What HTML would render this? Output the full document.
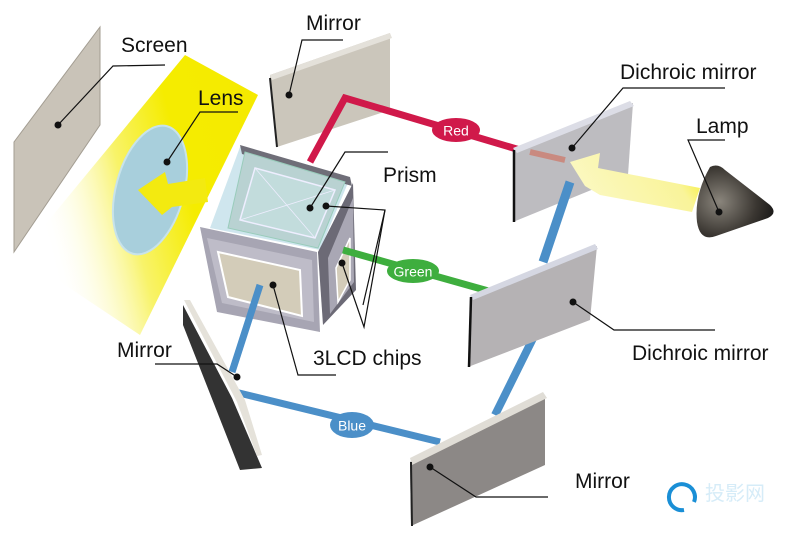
<!DOCTYPE html>
<html><head><meta charset="utf-8"><style>
html,body{margin:0;padding:0;background:#fff;}
svg{display:block;}
text{font-family:"Liberation Sans","Noto Sans CJK SC",sans-serif;}
</style></head><body>
<svg width="800" height="534" viewBox="0 0 800 534" xmlns="http://www.w3.org/2000/svg">
<defs>
<linearGradient id="yg" x1="0" y1="0.3" x2="1" y2="0">
<stop offset="0" stop-color="#fff" stop-opacity="0"/>
<stop offset="0.35" stop-color="#f8f36a"/>
<stop offset="0.6" stop-color="#f5ec00"/>
<stop offset="1" stop-color="#f5ea00"/>
</linearGradient>
<linearGradient id="lg" x1="1" y1="0" x2="0" y2="0.3">
<stop offset="0" stop-color="#f7ee10"/>
<stop offset="0.3" stop-color="#f9f49a"/>
<stop offset="1" stop-color="#fbf8c0"/>
</linearGradient>
<radialGradient id="lampg" cx="0.3" cy="0.5" r="0.8">
<stop offset="0" stop-color="#8a857c"/>
<stop offset="0.6" stop-color="#3a3631"/>
<stop offset="1" stop-color="#111"/>
</radialGradient>
</defs>
<rect width="800" height="534" fill="#fff"/>
<!-- Screen -->
<polygon points="100,27 100,125 14,252 14,142" fill="#c9c3b8" stroke="#a39d92" stroke-width="1"/>
<!-- yellow beam -->
<polygon points="185,55 258,95 140,335 20,255" fill="url(#yg)"/>
<!-- lens -->
<ellipse cx="150" cy="190" rx="34" ry="66" transform="rotate(15 150 190)" fill="#a8cfdc" stroke="#c8e3ea" stroke-width="2"/>
<polygon points="138,190 165,172 168,184 205,178 208,202 172,207 162,215" fill="#f3ea10"/>
<!-- top mirror -->
<polygon points="270,75 390,33 390,110 277,147" fill="#cbc6bb"/>
<polygon points="270,75 390,33 392,38 272,80" fill="#e4e1da"/>
<line x1="270" y1="78" x2="277" y2="147" stroke="#222" stroke-width="2"/>
<!-- red beam -->
<polyline points="310,162 345,98 520,150" fill="none" stroke="#d0194a" stroke-width="7"/>
<ellipse cx="456" cy="130" rx="24" ry="12" fill="#d0194a"/>
<text x="456" y="135.5" font-size="14" fill="#fff" text-anchor="middle">Red</text>
<!-- prism cube -->
<polygon points="240,147 350,178 320,250 210,228" fill="#cfe6ee"/>
<polygon points="240,145 350,177 352,186 242,154" fill="#6f6e78"/>
<polygon points="245,152 345,182 318,248 228,228" fill="#b9d2d2" stroke="#9cb" stroke-width="1"/>
<polygon points="255,168 335,190 315,238 240,220" fill="#c2dcdc" stroke="#eef" stroke-width="1.5"/>
<line x1="255" y1="168" x2="315" y2="238" stroke="#eef" stroke-width="0.8"/>
<line x1="335" y1="190" x2="240" y2="220" stroke="#eef" stroke-width="0.8"/>
<polygon points="200,227 317,252 320,332 217,312" fill="#a7a5b3"/>
<polygon points="207,238 312,260 314,322 222,303" fill="#bebcc8"/>
<polygon points="218,252 300,270 302,316 228,297" fill="#d3ccb9" stroke="#fff" stroke-width="2"/>
<polygon points="318,252 353,183 356,290 323,325" fill="#6c6a76"/>
<polygon points="328,258 353,198 354,282 330,314" fill="#a9a7b4"/>
<polygon points="336,268 350,238 350,280 338,302" fill="#d3ccb9" stroke="#fff" stroke-width="1.5"/>
<!-- green beam -->
<line x1="343" y1="250" x2="492" y2="292" stroke="#3eae3e" stroke-width="7"/>
<ellipse cx="413" cy="271" rx="26" ry="12" fill="#3eae3e"/>
<text x="413" y="276.5" font-size="14" fill="#fff" text-anchor="middle">Green</text>
<!-- dichroic 1 -->
<polygon points="513,150 633,103 628,175 513,222" fill="#bdbcc0"/>
<polygon points="513,148 630,101 634,106 517,153" fill="#dcdde6"/>
<line x1="514" y1="150" x2="514" y2="222" stroke="#111" stroke-width="2.5"/>
<line x1="530" y1="152" x2="565" y2="160" stroke="#c98a80" stroke-width="6"/>
<!-- blue beams -->
<polyline points="570,182 543,262" fill="none" stroke="#4b8fc8" stroke-width="9"/>
<polyline points="552,300 495,415" fill="none" stroke="#4b8fc8" stroke-width="8"/>
<!-- lamp light arrow -->
<polygon points="700,188 692,212 600,195 585,186 570,162 600,153 598,168" fill="url(#lg)"/>
<path d="M710,167 Q718,163 725,170 L770,205 Q778,213 768,218 L716,236 Q700,242 697,222 Q694,195 710,167 Z" fill="url(#lampg)"/>
<!-- dichroic 2 -->
<polygon points="470,297 597,246 590,320 468,367" fill="#b5b2b4"/>
<polygon points="470,295 595,244 598,249 473,300" fill="#d5d7e2"/>
<line x1="471" y1="297" x2="469" y2="367" stroke="#111" stroke-width="2.5"/>
<!-- blue to left -->
<line x1="440" y1="442" x2="235" y2="392" stroke="#4b8fc8" stroke-width="7"/>
<line x1="232" y1="372" x2="260" y2="285" stroke="#4b8fc8" stroke-width="7"/>
<ellipse cx="352" cy="425" rx="22" ry="13" fill="#4b8fc8"/>
<text x="352" y="430.5" font-size="14" fill="#fff" text-anchor="middle">Blue</text>
<!-- bottom mirror -->
<polygon points="410,462 545,395 545,465 411,526" fill="#8c8886"/>
<polygon points="410,458 543,392 547,398 412,465" fill="#e0ddd6"/>
<line x1="411" y1="462" x2="412" y2="526" stroke="#222" stroke-width="2"/>
<!-- left mirror -->
<polygon points="183,305 232,398 262,468 240,470 183,325" fill="#333"/>
<polygon points="184,300 190,300 245,400 262,455 257,456 237,402" fill="#e5e2da"/>
<!-- leaders -->
<g stroke="#111" stroke-width="1.2" fill="none">
<polyline points="58,125 113,66 165,65"/>
<polyline points="167,162 200,112 238,112"/>
<polyline points="289,95 302,40 343,40"/>
<polyline points="310,208 345,152 388,152"/>
<polyline points="326,206 385,210 363,305"/>
<polyline points="342,263 364,327 385,210"/>
<polyline points="273,285 298,375 336,375"/>
<polyline points="572,148 623,88 725,88"/>
<polyline points="719,212 688,140 725,140"/>
<polyline points="155,364 217,364 237,377"/>
<polyline points="573,302 614,330 715,330"/>
<polyline points="430,467 476,497 548,497"/>
</g>
<g fill="#111">
<circle cx="58" cy="125" r="3.5"/><circle cx="167" cy="162" r="3.5"/><circle cx="289" cy="95" r="3.5"/>
<circle cx="310" cy="208" r="3.5"/><circle cx="326" cy="206" r="3.5"/><circle cx="342" cy="263" r="3.5"/>
<circle cx="273" cy="285" r="3.5"/><circle cx="572" cy="148" r="3.5"/><circle cx="719" cy="212" r="3.5"/>
<circle cx="237" cy="377" r="3.5"/><circle cx="573" cy="302" r="3.5"/><circle cx="430" cy="467" r="3.5"/>
</g>
<g font-size="21" fill="#111">
<text x="121" y="52">Screen</text>
<text x="306" y="30">Mirror</text>
<text x="198" y="105">Lens</text>
<text x="383" y="182">Prism</text>
<text x="620" y="79">Dichroic mirror</text>
<text x="696" y="133">Lamp</text>
<text x="313" y="365">3LCD chips</text>
<text x="117" y="357">Mirror</text>
<text x="632" y="360">Dichroic mirror</text>
<text x="575" y="488">Mirror</text>
</g>
<!-- watermark -->
<path d="M684,510 A13,13 0 1,1 694,502" fill="none" stroke="#1a8fd6" stroke-width="4"/>
<text x="705" y="500" font-size="20" fill="#d6ecf8">投影网</text>
</svg>
</body></html>
